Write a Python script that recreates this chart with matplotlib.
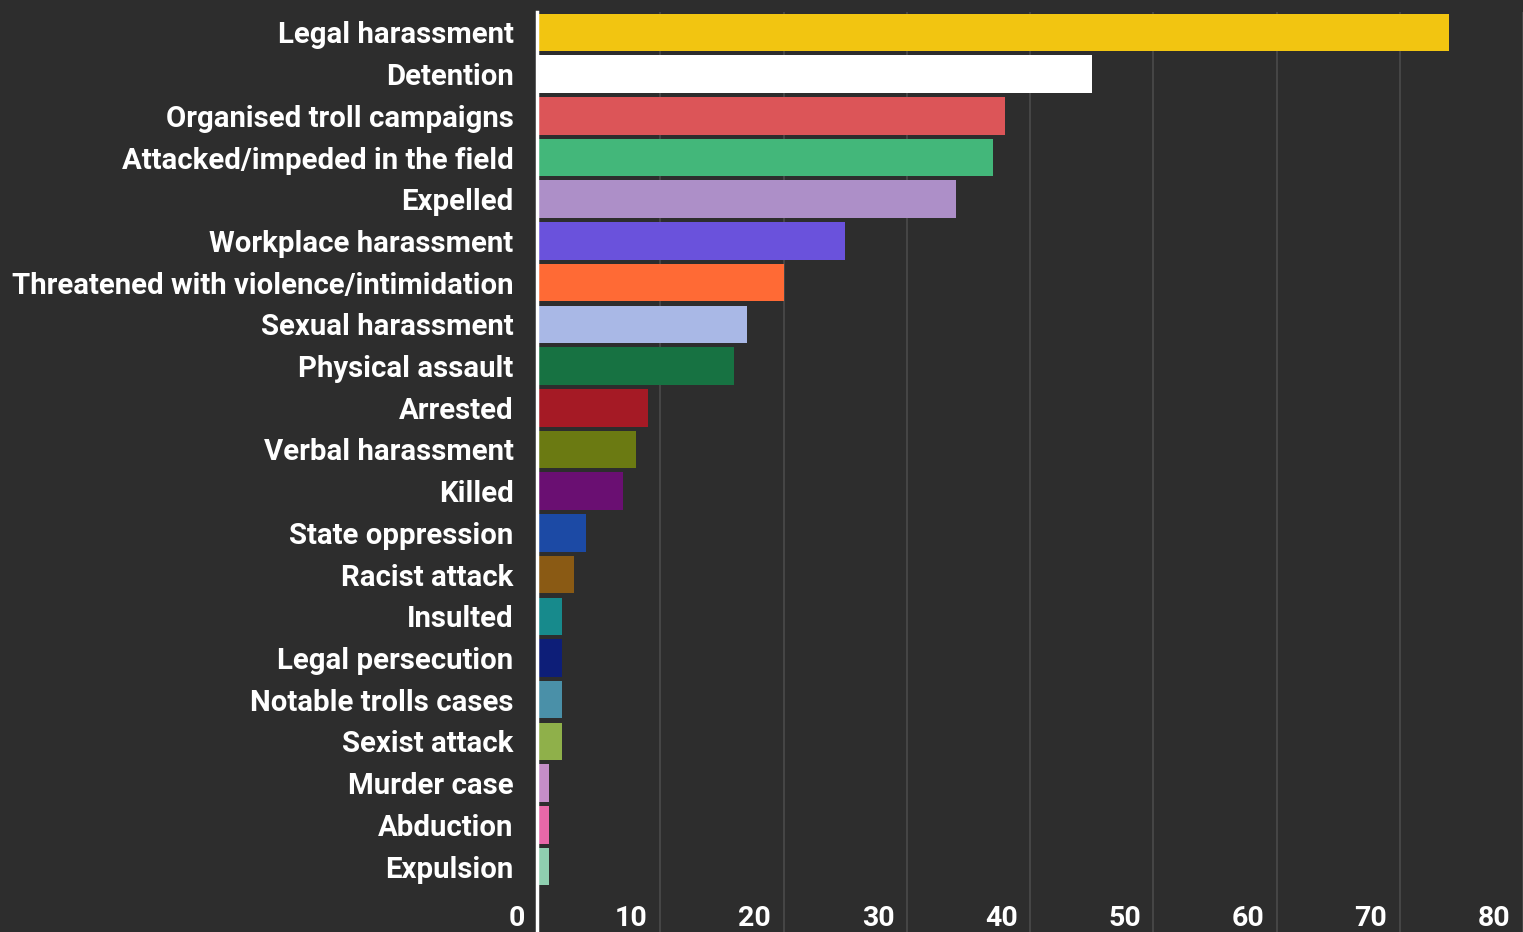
import matplotlib.pyplot as plt

categories = ['Legal harassment', 'Detention', 'Organised troll campaigns',
              'Attacked/impeded in the field', 'Expelled', 'Workplace harassment',
              'Threatened with violence/intimidation', 'Sexual harassment',
              'Physical assault', 'Arrested', 'Verbal harassment', 'Killed',
              'State oppression', 'Racist attack', 'Insulted', 'Legal persecution',
              'Notable trolls cases', 'Sexist attack', 'Murder case', 'Abduction',
              'Expulsion']
values = [74, 45, 38, 37, 34, 25, 20, 17, 16, 9, 8, 7, 4, 3, 2, 2, 2, 2, 1, 1, 1]
colors = ['#f2c511', '#ffffff', '#dc5558', '#43b77a', '#ad8fc8', '#6a52dc',
          '#ff6a35', '#a9b8e6', '#177242', '#a51a25', '#6b7a12', '#6a0f72',
          '#1c4aa5', '#8a5a14', '#178a8c', '#0d1e78', '#4a90a8', '#8fb04a',
          '#c58ec8', '#e868a8', '#8fcfb0']
xticks = [0, 10, 20, 30, 40, 50, 60, 70, 80]

bg = '#2d2d2d'
plt.rcParams['font.family'] = ['Roboto', 'DejaVu Sans']

fig = plt.figure(figsize=(15.23, 9.32), dpi=100, facecolor=bg)
ax = fig.add_axes([0.3526, 0.0, 0.6474, 0.9876], facecolor=bg)

ypos = list(range(len(categories)))
ax.barh(ypos, values, height=0.9, color=colors, zorder=2)

ax.set_xlim(0, 80)
ax.set_ylim(21.57, -0.5)
ax.set_yticks(ypos)
ax.set_yticklabels(categories, color='white', fontsize=21.2, fontweight='bold')
ax.tick_params(axis='y', length=0, pad=17)
ax.set_xticks(xticks)
ax.set_xticklabels([])
ax.tick_params(axis='x', length=0)
ax.grid(axis='x', color='#4a4a4a', linewidth=1.2, zorder=0)
ax.grid(axis='y', visible=False)

for s in ['top', 'right', 'bottom']:
    ax.spines[s].set_visible(False)
ax.spines['left'].set_color('white')
ax.spines['left'].set_linewidth(2.5)
ax.spines['left'].set_zorder(3)

for t in xticks:
    ax.annotate(str(t), (t, 0), xycoords=('data', 'axes fraction'),
                xytext=(-9, 0), textcoords='offset points',
                ha='right', va='bottom', color='white', fontsize=20.5,
                fontweight='bold')

fig.savefig('out.png', dpi=100, facecolor=bg)
